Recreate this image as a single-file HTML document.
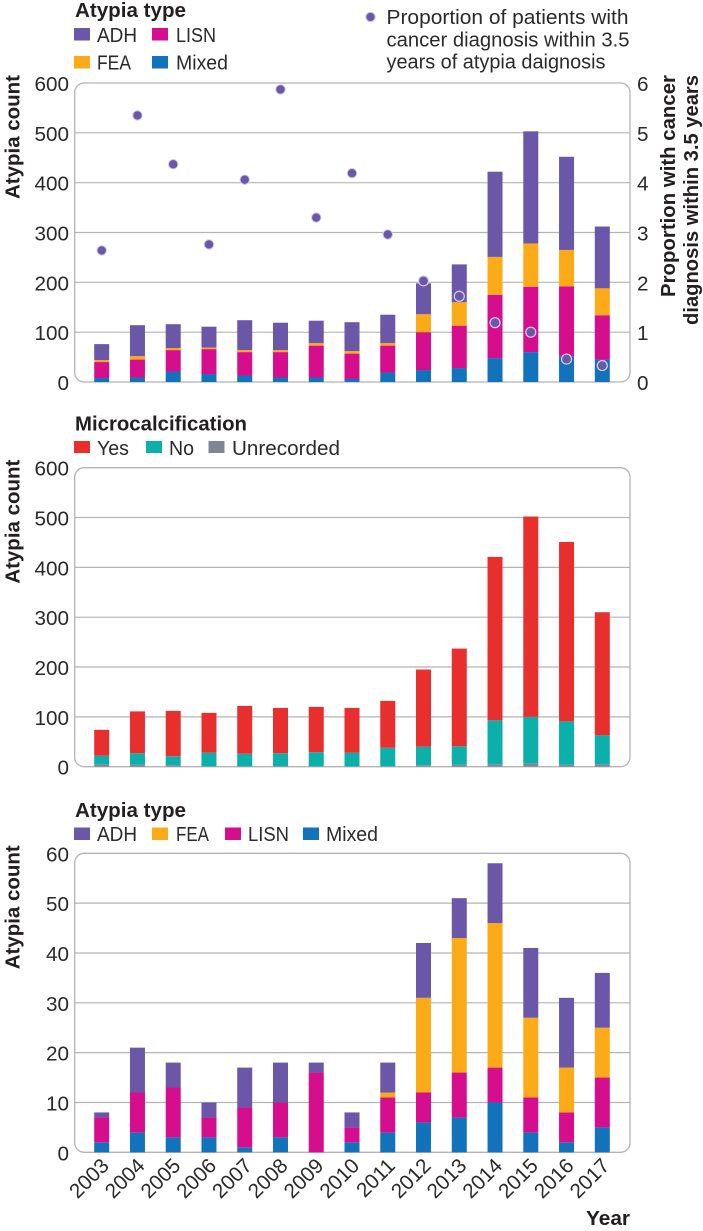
<!DOCTYPE html>
<html lang="en">
<head>
<meta charset="utf-8">
<title>Atypia counts by year</title>
<style>
html,body{margin:0;padding:0;background:#fff;width:703px;height:1231px;overflow:hidden}
svg{display:block}
text{font-family:"Liberation Sans",sans-serif;fill:#2b2a2b}
.t{font-size:20px}
.n{font-size:20.7px}
.b{font-size:20px;font-weight:bold;fill:#231f20}
</style>
</head>
<body>
<svg id="figure" xmlns="http://www.w3.org/2000/svg" width="703" height="1231" viewBox="0 0 703 1231">
  <g>
    <text class="b" x="75" y="17" textLength="111" lengthAdjust="spacingAndGlyphs">Atypia type</text>
    <rect x="74" y="28" width="16" height="12.5" fill="#6a57a7"/>
    <text class="t" x="97" y="42" textLength="40" lengthAdjust="spacingAndGlyphs">ADH</text>
    <rect x="152" y="28" width="16" height="12.5" fill="#d60d8c"/>
    <text class="t" x="176" y="42" textLength="40" lengthAdjust="spacingAndGlyphs">LISN</text>
    <rect x="74" y="56" width="16" height="12.5" fill="#fdaa19"/>
    <text class="t" x="97" y="69.5" textLength="34" lengthAdjust="spacingAndGlyphs">FEA</text>
    <rect x="152" y="56" width="16" height="12.5" fill="#1272bb"/>
    <text class="t" x="176" y="69.5" textLength="52" lengthAdjust="spacingAndGlyphs">Mixed</text>
    <circle cx="370.5" cy="17" r="4.7" fill="#6a57a7" stroke="#cfc9e4" stroke-width="1.2"/>
    <text class="t" x="386.5" y="24" textLength="242" lengthAdjust="spacingAndGlyphs">Proportion of patients with</text>
    <text class="t" x="386.5" y="46.5" textLength="243" lengthAdjust="spacingAndGlyphs">cancer diagnosis within 3.5</text>
    <text class="t" x="386.5" y="68.5" textLength="219" lengthAdjust="spacingAndGlyphs">years of atypia daignosis</text>
  </g>
  <g>
    <text class="b" x="75" y="430.5" textLength="172" lengthAdjust="spacingAndGlyphs">Microcalcification</text>
    <rect x="74" y="441" width="16" height="12" fill="#e92e2e"/>
    <text class="t" x="97" y="455" textLength="32" lengthAdjust="spacingAndGlyphs">Yes</text>
    <rect x="146" y="441" width="16" height="12" fill="#0bb0aa"/>
    <text class="t" x="169" y="455" textLength="25" lengthAdjust="spacingAndGlyphs">No</text>
    <rect x="208.5" y="441" width="16" height="12" fill="#7f8796"/>
    <text class="t" x="232" y="455" textLength="108" lengthAdjust="spacingAndGlyphs">Unrecorded</text>
  </g>
  <g>
    <text class="b" x="75" y="817" textLength="111" lengthAdjust="spacingAndGlyphs">Atypia type</text>
    <rect x="74" y="827.5" width="16" height="12.5" fill="#6a57a7"/>
    <text class="t" x="97" y="841" textLength="40" lengthAdjust="spacingAndGlyphs">ADH</text>
    <rect x="152" y="827.5" width="16" height="12.5" fill="#fdaa19"/>
    <text class="t" x="176" y="841" textLength="33" lengthAdjust="spacingAndGlyphs">FEA</text>
    <rect x="225" y="827.5" width="16" height="12.5" fill="#d60d8c"/>
    <text class="t" x="248" y="841" textLength="41" lengthAdjust="spacingAndGlyphs">LISN</text>
    <rect x="303" y="827.5" width="16" height="12.5" fill="#1272bb"/>
    <text class="t" x="326" y="841" textLength="52" lengthAdjust="spacingAndGlyphs">Mixed</text>
  </g>
  <text class="b" x="586" y="1225" textLength="44" lengthAdjust="spacingAndGlyphs">Year</text>
</svg>
<script>
// ---- data ----
const years = [2003,2004,2005,2006,2007,2008,2009,2010,2011,2012,2013,2014,2015,2016,2017];

const topMixed = [8,9,21,16,13,9,9,6,19,24,28,48,60,52,45];
const topLisn  = [32,36,43,50,47,51,64,51,54,76,85,127,131,140,89];
const topFea   = [4,7,4,3,4,4,5,5,5,36,47,76,87,73,54];
const topAdh   = [32,62,48,42,60,55,45,58,57,62,76,171,225,187,124];
const proportion = [2.64,5.35,4.37,2.76,4.06,5.87,3.30,4.19,2.96,2.03,1.72,1.19,1.00,0.46,0.33];

const midUnrecorded = [5,4,3,1,1,1,1,1,1,3,4,5,6,4,5];
const midNo  = [17,23,18,27,25,26,28,27,37,37,37,88,94,87,58];
const midYes = [52,84,91,80,96,91,91,90,94,155,196,328,402,360,247];

const botMixed = [2,4,3,3,1,3,0,2,4,6,7,10,4,2,5];
const botLisn  = [5,8,10,4,8,7,16,3,7,6,9,7,7,6,10];
const botFea   = [0,0,0,0,0,0,0,0,1,19,27,29,16,9,10];
const botAdh   = [1,9,5,3,8,8,2,3,6,11,8,12,14,14,11];

const countTicks = [0,100,200,300,400,500,600];
const smallCountTicks = [0,10,20,30,40,50,60];
const proportionTicks = [0,1,2,3,4,5,6];

// ---- drawing ----
const NS = 'http://www.w3.org/2000/svg';
const svg = document.getElementById('figure');
const C = {adh:'#6a57a7', lisn:'#d60d8c', fea:'#fdaa19', mixed:'#1272bb', yes:'#e92e2e', no:'#0bb0aa', unrecorded:'#7f8796'};
const plotLeft = 74.7, plotRight = 630;

function make(tag, attrs, parent) {
  const e = document.createElementNS(NS, tag);
  for (const k in attrs) e.setAttribute(k, attrs[k]);
  parent.appendChild(e);
  return e;
}
function xScale(i) { return 101.7 + i * (602.3 - 101.7) / (years.length - 1); }

function drawChart(key, top, bottom, ticks, series) {
  const g = make('g', {}, svg);
  
  
  const maxV = ticks[ticks.length - 1];
  const yScale = v => bottom - (v / maxV) * (bottom - top);

  ticks.forEach(t => {
    const y = yScale(t);
    if (t !== 0 && t !== maxV) {
      const line = make('line', {x1: plotLeft, x2: plotRight, y1: y, y2: y, stroke: '#b4b4b6', 'stroke-width': 1.2}, g);
      
      
    }
    const lab = make('text', {class: 'n', x: 69, y: y + 8, 'text-anchor': 'end'}, g);
    lab.textContent = t;
    
    
  });

  const frame = make('rect', {x: plotLeft, y: top, width: plotRight - plotLeft, height: bottom - top, rx: 9.5, ry: 9.5, fill: 'none', stroke: '#b4b4b6', 'stroke-width': 1.3}, g);
  
  

  years.forEach((yr, i) => {
    let cum = 0;
    series.forEach(s => {
      const v = s.values[i];
      if (v > 0) {
        const bar = make('rect', {x: xScale(i) - 7.5, width: 15, y: yScale(cum + v), height: yScale(cum) - yScale(cum + v), fill: s.color}, g);
        
        
      }
      cum += v;
    });
  });

  const title = make('text', {class: 'b', transform: 'translate(19.5,' + (top - 8) + ') rotate(-90)', 'text-anchor': 'end', textLength: 124, lengthAdjust: 'spacingAndGlyphs'}, g);
  title.textContent = 'Atypia count';
  
  
  return yScale;
}

drawChart('top', 83, 382, countTicks, [
  {name: 'mixed', color: C.mixed, values: topMixed},
  {name: 'lisn', color: C.lisn, values: topLisn},
  {name: 'fea', color: C.fea, values: topFea},
  {name: 'adh', color: C.adh, values: topAdh}
]);
drawChart('middle', 467.7, 766.7, countTicks, [
  {name: 'unrecorded', color: C.unrecorded, values: midUnrecorded},
  {name: 'no', color: C.no, values: midNo},
  {name: 'yes', color: C.yes, values: midYes}
]);
drawChart('bottom', 853.3, 1152.3, smallCountTicks, [
  {name: 'mixed', color: C.mixed, values: botMixed},
  {name: 'lisn', color: C.lisn, values: botLisn},
  {name: 'fea', color: C.fea, values: botFea},
  {name: 'adh', color: C.adh, values: botAdh}
]);

// right axis of top chart
const propY = v => 382 - (v / 6) * (382 - 83);
proportionTicks.forEach(t => {
  const lab = make('text', {class: 'n', x: 637, y: propY(t) + 8}, svg);
  lab.textContent = t;
  
  
});
proportion.forEach((p, i) => {
  const onBar = i >= 9;
  const dot = make('circle', {cx: xScale(i), cy: propY(p), r: onBar ? 5 : 4.7, fill: C.adh, stroke: onBar ? '#d8d2ec' : '#cfc9e4', 'stroke-width': onBar ? 1.2 : 1}, svg);
  
  
});
const rt1 = make('text', {class: 'b', transform: 'translate(675,75) rotate(-90)', 'text-anchor': 'end', textLength: 222, lengthAdjust: 'spacingAndGlyphs'}, svg);
rt1.textContent = 'Proportion with cancer';


const rt2 = make('text', {class: 'b', transform: 'translate(698,75) rotate(-90)', 'text-anchor': 'end', textLength: 250, lengthAdjust: 'spacingAndGlyphs'}, svg);
rt2.textContent = 'diagnosis within 3.5 years';



// x tick labels under bottom chart
years.forEach((yr, i) => {
  const tx = xScale(i) + 8.5;
  const lab = make('text', {class: 'n', transform: 'translate(' + tx + ',1167) rotate(-45)', 'text-anchor': 'end'}, svg);
  lab.textContent = yr;
  
  
});
</script>
</body>
</html>
